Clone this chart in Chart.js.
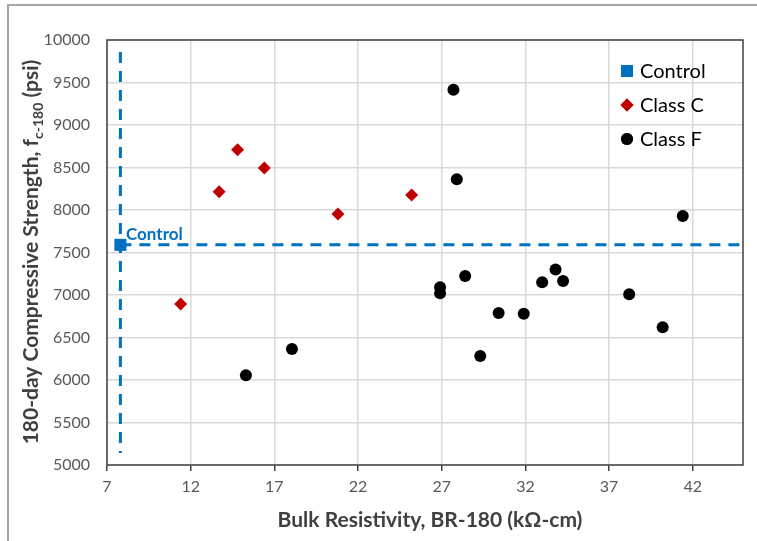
<!DOCTYPE html>
<html>
<head>
<meta charset="utf-8">
<script src="https://cdn.jsdelivr.net/npm/chart.js@4"></script>
<style>
  html, body { margin: 0; padding: 0; background: #fff; }
  #wrap { position: relative; width: 757px; height: 541px; }
</style>
</head>
<body>
<div id="wrap"><canvas id="chart" width="757" height="541"></canvas></div>
<script>
const X_TICKS = [7, 12, 17, 22, 27, 32, 37, 42];

const controlX = [7.8];
const controlY = [7590];

const classCX = [11.4, 13.7, 14.8, 16.4, 20.8, 25.2];
const classCY = [6894, 8215, 8710, 8494, 7953, 8176];

const classFX = [15.3, 18.05, 26.9, 26.9, 27.7, 27.9, 28.4, 29.3, 30.4, 31.9, 33.0, 33.8, 34.25, 38.2, 40.2, 41.4];
const classFY = [6055, 6365, 7090, 7020, 9416, 8361, 7224, 6282, 6788, 6780, 7149, 7300, 7165, 7008, 6620, 7929];

// dashed reference lines through the control value
const vLineX = [7.8, 7.8];
const vLineY = [9860, 5140];
const hLineX = [7.8, 45];
const hLineY = [7590, 7590];

const BLUE = '#0070C0';
const RED = '#C00000';
const FONT = 'Lato, "Open Sans", sans-serif';

function pts(xs, ys) {
    return xs.map(function(x, i) { return { x: x, y: ys[i] }; });
}

const legendItems = [
    { label: 'Control', style: 'rect', color: BLUE, r: 8.5 },
    { label: 'Class C', style: 'rectRot', color: RED, r: 6.5 },
    { label: 'Class F', style: 'circle', color: '#000', r: 6 }
];

const decorPlugin = {
    id: 'decor',
    beforeDraw: function(chart) {
        var ctx = chart.ctx;
        ctx.save();
        ctx.strokeStyle = '#a6a6a6';
        ctx.lineWidth = 2;
        ctx.beginPath();
        ctx.moveTo(8, 545);
        ctx.lineTo(8, 5);
        ctx.lineTo(760, 5);
        ctx.stroke();
        ctx.restore();
    },
    beforeDatasetsDraw: function(chart) {
        var ctx = chart.ctx, a = chart.chartArea;
        ctx.save();
        ctx.strokeStyle = '#404040';
        ctx.lineWidth = 1.5;
        ctx.strokeRect(a.left, a.top, a.right - a.left, a.bottom - a.top);
        ctx.restore();
    },
    afterDraw: function(chart) {
        var ctx = chart.ctx;
        ctx.save();

        // legend
        ctx.font = '20px ' + FONT;
        ctx.textBaseline = 'middle';
        legendItems.forEach(function(it, i) {
            var y = 71 + i * 34;
            ctx.fillStyle = it.color;
            ctx.strokeStyle = it.color;
            Chart.helpers.drawPoint(ctx, { pointStyle: it.style, radius: it.r, borderWidth: 0 }, 627, y);
            ctx.fill();
            ctx.fillStyle = '#000';
            ctx.fillText(it.label, 640, y + 1);
        });

        // control label
        ctx.font = 'bold 17px ' + FONT;
        ctx.fillStyle = BLUE;
        ctx.textBaseline = 'alphabetic';
        ctx.fillText('Control', 126, 240);

        // x title
        ctx.font = 'bold 21px ' + FONT;
        ctx.fillStyle = '#404040';
        ctx.textAlign = 'center';
        ctx.fillText('Bulk Resistivity, BR-180 (k\u03A9-cm)', 430, 527);

        // y title with subscript
        var p1 = '180-day Compressive Strength, f';
        var sub = 'c-180';
        var p2 = ' (psi)';
        ctx.font = 'bold 21px ' + FONT;
        var w1 = ctx.measureText(p1).width;
        var w3 = ctx.measureText(p2).width;
        ctx.font = 'bold 14px ' + FONT;
        var w2 = ctx.measureText(sub).width;
        var total = w1 + w2 + w3;
        ctx.translate(38, 252);
        ctx.rotate(-Math.PI / 2);
        ctx.textAlign = 'left';
        var x0 = -total / 2;
        ctx.font = 'bold 21px ' + FONT;
        ctx.fillText(p1, x0, 0);
        ctx.font = 'bold 14px ' + FONT;
        ctx.fillText(sub, x0 + w1, 5);
        ctx.font = 'bold 21px ' + FONT;
        ctx.fillText(p2, x0 + w1 + w2, 0);
        ctx.restore();
    }
};

new Chart(document.getElementById('chart'), {
    type: 'scatter',
    data: {
        datasets: [
            {
                label: 'vline',
                type: 'line',
                data: pts(vLineX, vLineY),
                borderColor: BLUE,
                borderWidth: 3,
                borderDash: [11, 8],
                pointRadius: 0,
                fill: false
            },
            {
                label: 'hline',
                type: 'line',
                data: pts(hLineX, hLineY),
                borderColor: BLUE,
                borderWidth: 3,
                borderDash: [11, 8],
                pointRadius: 0,
                fill: false
            },
            {
                label: 'Control',
                data: pts(controlX, controlY),
                pointStyle: 'rect',
                pointRadius: 8.5,
                backgroundColor: BLUE,
                borderWidth: 0
            },
            {
                label: 'Class C',
                data: pts(classCX, classCY),
                pointStyle: 'rectRot',
                pointRadius: 6.5,
                backgroundColor: RED,
                borderWidth: 0
            },
            {
                label: 'Class F',
                data: pts(classFX, classFY),
                pointStyle: 'circle',
                pointRadius: 6,
                backgroundColor: '#000',
                borderWidth: 0
            }
        ]
    },
    options: {
        responsive: false,
        animation: false,
        layout: { padding: { left: 0, top: 40, right: 14, bottom: 0 } },
        plugins: {
            legend: { display: false },
            tooltip: { enabled: false }
        },
        scales: {
            x: {
                type: 'linear',
                min: 7,
                max: 45,
                afterBuildTicks: function(s) {
                    s.ticks = X_TICKS.map(function(v) { return { value: v }; });
                },
                afterFit: function(s) { s.height = 76; },
                grid: { color: '#d9d9d9', lineWidth: 1.5, tickLength: 6, tickColor: '#404040' },
                border: { display: false },
                ticks: { color: '#595959', font: { family: FONT, size: 16 }, padding: 6, maxRotation: 0 }
            },
            y: {
                type: 'linear',
                min: 5000,
                max: 10000,
                afterFit: function(s) { s.width = 107; },
                grid: { color: '#d9d9d9', lineWidth: 1.5, drawTicks: false },
                border: { display: false },
                ticks: {
                    stepSize: 500,
                    color: '#595959',
                    font: { family: FONT, size: 16 },
                    padding: 17,
                    callback: function(v) { return String(v); }
                }
            }
        }
    },
    plugins: [decorPlugin]
});
</script>
</body>
</html>
